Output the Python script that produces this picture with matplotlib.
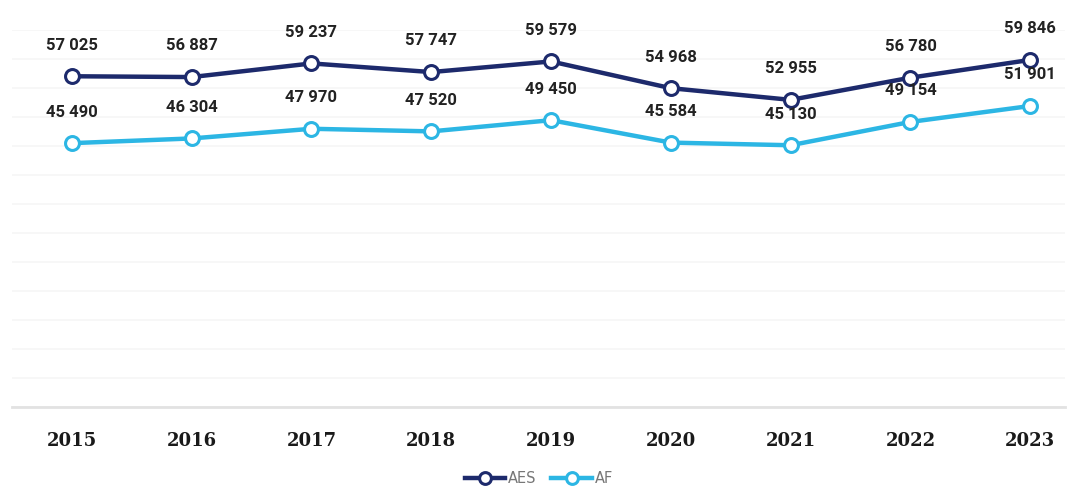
import matplotlib.pyplot as plt
from matplotlib.ticker import MultipleLocator

years = ["2015", "2016", "2017", "2018", "2019", "2020", "2021", "2022", "2023"]
aes = [57025, 56887, 59237, 57747, 59579, 54968, 52955, 56780, 59846]
af = [45490, 46304, 47970, 47520, 49450, 45584, 45130, 49154, 51901]

AES_COLOR = "#1d2a6c"
AF_COLOR = "#2cb6e4"


def fmt(v):
    # thousands separated by a plain space, e.g. 57 025
    return f"{v:,}".replace(",", " ")


fig = plt.figure(figsize=(10.78, 4.92), dpi=100)
ax = fig.add_axes([12 / 1078, 85 / 492, 1053 / 1078, (492 - 85 - 30) / 492])

x = list(range(len(years)))
for vals, col, name in [(aes, AES_COLOR, "AES"), (af, AF_COLOR, "AF")]:
    ax.plot(x, vals, color=col, lw=3.2, marker="o", markersize=10,
            markerfacecolor="white", markeredgecolor=col, markeredgewidth=2.2,
            label=name, zorder=3)
    for xi, v in zip(x, vals):
        ax.annotate(fmt(v), (xi, v), xytext=(0, 17), textcoords="offset points",
                    ha="center", va="bottom", fontsize=12, fontweight="bold",
                    color="#222222", family="Roboto")

ax.set_xlim(-0.5, 8.29)
ax.set_ylim(0, 65000)
ax.yaxis.set_major_locator(MultipleLocator(5000))
ax.grid(axis="y", color="#f7f7f7", lw=1.4)
ax.set_axisbelow(True)

ax.set_xticks(x)
ax.set_xticklabels(years, fontsize=13, fontweight="bold", family="DejaVu Serif",
                   color="#1a1a1a")
ax.tick_params(axis="x", length=0, pad=18)
ax.tick_params(axis="y", left=False, labelleft=False)

for side in ["top", "right", "left"]:
    ax.spines[side].set_visible(False)
ax.spines["bottom"].set_color("#e2e2e2")
ax.spines["bottom"].set_linewidth(2)

fig.legend(loc="lower center", bbox_to_anchor=(0.5, -0.015), ncol=2, frameon=False,
           fontsize=10.5, labelcolor="#777777", handlelength=2.8, handletextpad=0.2,
           columnspacing=1.0, markerscale=0.85)

fig.savefig("out.png", dpi=100, facecolor="white")
